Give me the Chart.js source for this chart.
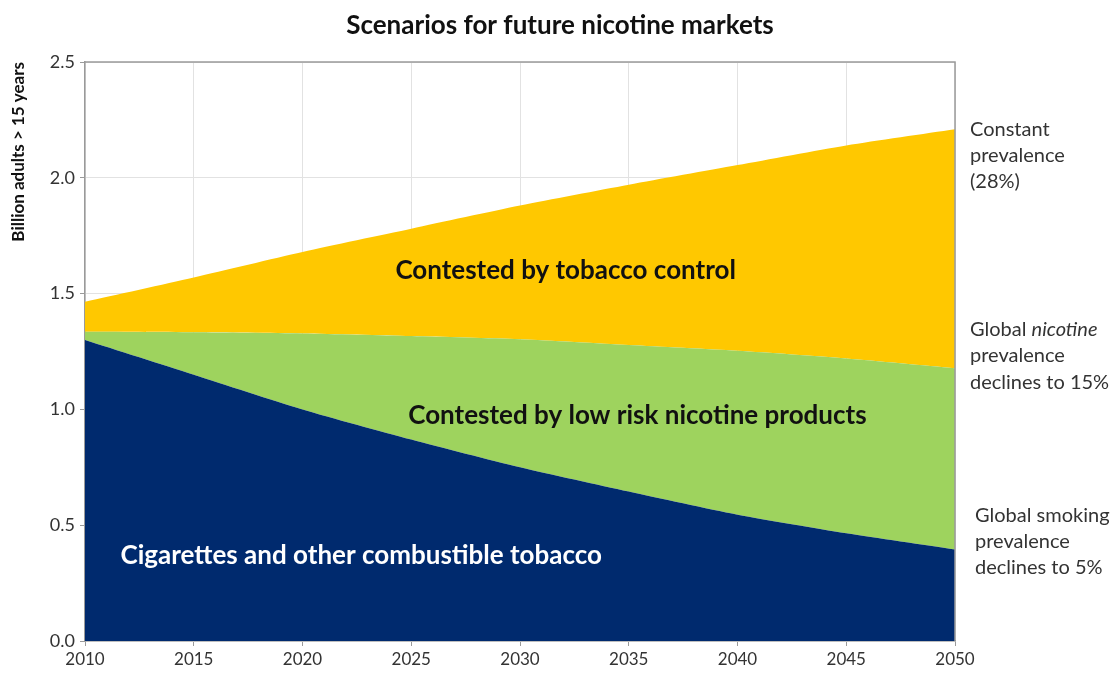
<!DOCTYPE html>
<html>
<head>
<meta charset="utf-8">
<script src="https://cdn.jsdelivr.net/npm/chart.js@4"></script>
<style>
	body { margin: 0; background: #fff; }
	canvas { display: block; }
</style>
</head>
<body>
<canvas id="myChart" width="1117" height="679"></canvas>
<script>
// years on the x axis
var years = [2010, 2015, 2020, 2025, 2030, 2035, 2040, 2045, 2050];
// top edge of each band, billion adults
var combustibleTop = [1.30, 1.15, 1.00, 0.87, 0.75, 0.645, 0.545, 0.465, 0.395];
var nicotineTop = [1.335, 1.333, 1.328, 1.317, 1.303, 1.278, 1.253, 1.22, 1.178];
var constantTop = [1.465, 1.57, 1.68, 1.78, 1.88, 1.97, 2.055, 2.14, 2.21];

var yTicks = [0, 0.5, 1.0, 1.5, 2.0, 2.5];

var font = "Lato, 'Open Sans', sans-serif";

function toPoints(vals) {
	return years.map(function (y, i) {
		return { x: y, y: vals[i] };
	});
}

var textPlugin = {
	id: "texts",
	afterDraw: function (chart) {
		var ctx = chart.ctx;
		var area = chart.chartArea;
		var xs = chart.scales.x;
		var ys = chart.scales.y;
		ctx.save();

		// box border on top and right
		ctx.strokeStyle = "#9a9a9a";
		ctx.lineWidth = 1.5;
		ctx.beginPath();
		ctx.moveTo(area.left, area.top);
		ctx.lineTo(area.right, area.top);
		ctx.lineTo(area.right, area.bottom);
		ctx.stroke();

		// title
		ctx.fillStyle = "#111";
		ctx.font = "bold 26px " + font;
		ctx.textAlign = "center";
		ctx.textBaseline = "middle";
		ctx.fillText("Scenarios for future nicotine markets", 560, 26);

		// band labels
		ctx.font = "bold 26px " + font;
		ctx.fillStyle = "#111";
		ctx.fillText("Contested by tobacco control", xs.getPixelForValue(2032.1), ys.getPixelForValue(1.60));
		ctx.fillText("Contested by low risk nicotine products", xs.getPixelForValue(2035.4), ys.getPixelForValue(0.975));
		ctx.fillStyle = "#fff";
		ctx.fillText("Cigarettes and other combustible tobacco", xs.getPixelForValue(2022.7), ys.getPixelForValue(0.37));

		// right side notes
		ctx.textAlign = "left";
		ctx.fillStyle = "#333";
		ctx.font = "20px " + font;
		var rx = area.right + 15;
		ctx.fillText("Constant", rx, 130);
		ctx.fillText("prevalence", rx, 156);
		ctx.fillText("(28%)", rx, 182);

		ctx.fillText("Global ", rx, 330);
		var w = ctx.measureText("Global ").width;
		ctx.font = "italic 20px " + font;
		ctx.fillText("nicotine", rx + w, 330);
		ctx.font = "20px " + font;
		ctx.fillText("prevalence", rx, 356);
		ctx.fillText("declines to 15%", rx, 383);

		ctx.fillText("Global smoking", rx + 5, 516);
		ctx.fillText("prevalence", rx + 5, 542);
		ctx.fillText("declines to 5%", rx + 5, 568);
		ctx.restore();
	},
};

var myChart = new Chart(document.querySelector("#myChart").getContext("2d"), {
	type: "line",
	data: {
		datasets: [
			{
				label: "Cigarettes and other combustible tobacco",
				data: toPoints(combustibleTop),
				backgroundColor: "rgb(0,42,110)",
				fill: "origin",
			},
			{
				label: "Contested by low risk nicotine products",
				data: toPoints(nicotineTop),
				backgroundColor: "rgb(158,211,94)",
				fill: "-1",
			},
			{
				label: "Contested by tobacco control",
				data: toPoints(constantTop),
				backgroundColor: "rgb(255,200,0)",
				fill: "-1",
			},
		],
	},
	options: {
		responsive: false,
		devicePixelRatio: 1,
		animation: false,
		elements: {
			line: { borderWidth: 0, tension: 0.25 },
			point: { radius: 0 },
		},
		layout: { padding: { left: 0, right: 162, top: 62, bottom: 0 } },
		plugins: {
			legend: { display: false },
			tooltip: { enabled: false },
		},
		scales: {
			x: {
				type: "linear",
				min: 2010,
				max: 2050,
				afterFit: function (s) {
					s.height = 38;
				},
				grid: { color: "#e2e2e2", tickColor: "#9a9a9a", tickLength: 5 },
				border: { color: "#9a9a9a", width: 1.5 },
				ticks: {
					stepSize: 5,
					padding: 3,
					color: "#333",
					font: { family: font, size: 17 },
					callback: function (v) {
						return String(v);
					},
				},
			},
			y: {
				min: 0,
				max: 2.5,
				afterFit: function (s) {
					s.width = 85;
				},
				afterBuildTicks: function (s) {
					s.ticks = yTicks.map(function (v) {
						return { value: v };
					});
				},
				grid: { color: "#e2e2e2", tickColor: "#9a9a9a", tickLength: 5 },
				border: { color: "#9a9a9a", width: 1.5 },
				ticks: {
					padding: 5,
					color: "#333",
					font: { family: font, size: 18 },
					callback: function (v) {
						return v.toFixed(1);
					},
				},
				title: {
					display: true,
					text: "Billion adults > 15 years",
					align: "end",
					color: "#111",
					padding: { top: 8, bottom: 0 },
					font: { family: font, size: 17, weight: "bold" },
				},
			},
		},
	},
	plugins: [textPlugin],
});
</script>
</body>
</html>
